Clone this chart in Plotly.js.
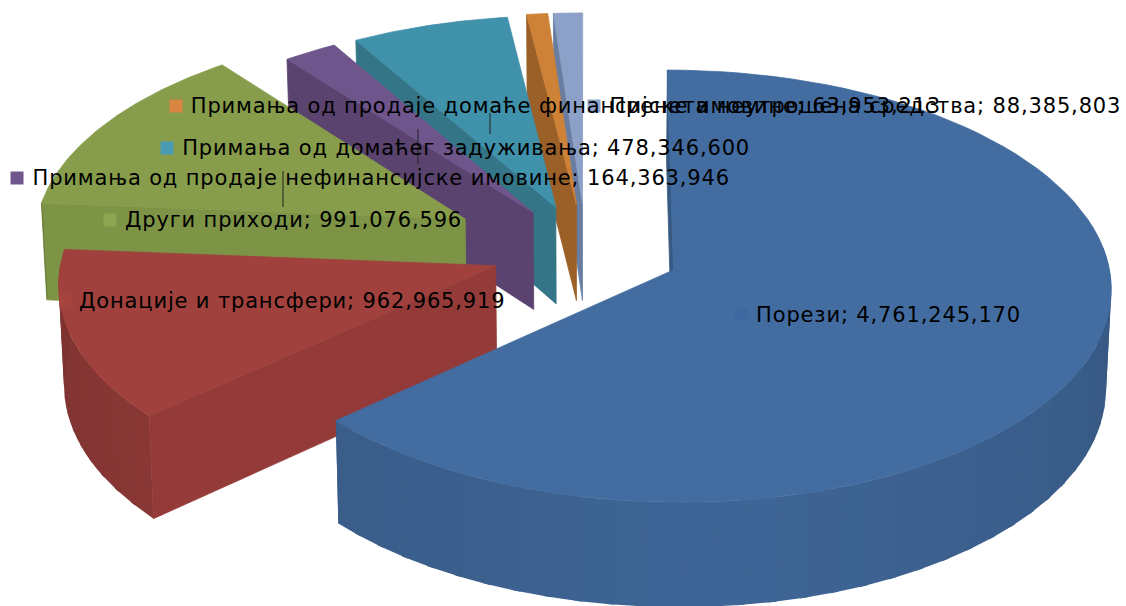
<!DOCTYPE html>
<html>
<head>
<meta charset="utf-8">
<script src="https://cdn.plot.ly/plotly-3.0.1.min.js"></script>
<style>html,body{margin:0;padding:0;background:#fff;overflow:hidden}#c{width:1126px;height:606px}
#c .annotation text{letter-spacing:.85px}</style>
</head>
<body>
<div id="c"></div>
<script>
// data
var categories = ['Порези','Донације и трансфери','Други приходи','Примања од продаје нефинансијске имовине','Примања од домаћег задуживања','Примања од продаје домаће финансијске имовине','Пренета неутрошена средства'];
var values = [4761245170,962965919,991076596,164363946,478346600,63953213,88385803];
var explode = [0.22,0.219,0.32,0.22,0.22,0.225,0.225];
var topColors = [[67,108,160],[160,65,62],[135,157,75],[110,85,140],[64,145,170],[205,130,55],[140,160,200]];
var faceColors = [[55,90,130],[148,59,57],[125,148,70],[90,67,110],[52,118,135],[155,95,40],[105,125,160]];
var keyColors = ['#3f68a0','#a8443f','#8ca550','#6e558c','#4a9ab5','#d88640','#8ca5cc'];
var labelX = [755,78,124,31,181,190,608];
var labelY = [315,301,220,178,148,106,106];
var keyX = [741,66,110,17,167,176,594];
var keyY = [314,301,220,178,148,106,106];
var leaderX = [490,418,283];
var leaderTop = [113,129,171];
var leaderBottom = [134,164,207];

// projection of the tilted pie onto the page
var Cx=586, Cy=250.7, F=433, A=212, K=0.075, D=98;
function rad(d){return d*Math.PI/180;}
function proj(X,Y,z){
  var den=1+K*Y;
  return [Cx+F*X/den*(1-0.01*z), Cy-A*Y/den+z*D*(1-0.065*Y)];
}
function rgb(c,f){f=f||1;return 'rgb('+c.map(function(v){return Math.round(v*f);}).join(',')+')';}
var traces=[];
function poly(pts,color,name,lw){
  var xs=pts.map(function(p){return p[0];}), ys=pts.map(function(p){return p[1];});
  xs.push(xs[0]); ys.push(ys[0]);
  traces.push({type:'scatter',mode:'lines',x:xs,y:ys,fill:'toself',fillcolor:color,line:{color:color,width:lw||0},hoverinfo:'skip',showlegend:false,name:name});
}
var total=values.reduce(function(a,b){return a+b;},0);
var starts=[],ends=[],acc=0;
values.forEach(function(v){starts.push(acc/total*360);acc+=v;ends.push(acc/total*360);});

[6,5,4,3,2,1,0].forEach(function(i){
  var s=starts[i],e=ends[i],mid=(s+e)/2;
  var X0=explode[i]*Math.sin(rad(mid)),Y0=explode[i]*Math.cos(rad(mid));
  function rim(a,z){return proj(X0+Math.sin(rad(a)),Y0+Math.cos(rad(a)),z);}
  // radial face at the start of the slice
  poly([rim(s,0),proj(X0,Y0,0),proj(X0,Y0,1),rim(s,1)],rgb(faceColors[i]),categories[i],0.8);
  // curved outer wall, in shaded bands; each band runs under the next
  var a0=Math.max(s,80),a1=Math.min(e,275),step=4;
  for(var a=a0;a<a1;a+=step){
    var b=Math.min(a+step,a1),bb=Math.min(b+1,a1);
    var f=0.94-0.0016*Math.abs((a+b)/2-175);
    poly([rim(a,0),rim((a+bb)/2,0),rim(bb,0),rim(bb,1),rim((a+bb)/2,1),rim(a,1)],rgb(topColors[i],f),categories[i]);
  }
  // top face
  var pts=[proj(X0,Y0,0)];
  for(var t=0;t<=90;t++){pts.push(rim(s+(e-s)*t/90,0));}
  poly(pts,rgb(topColors[i]),categories[i],0.8);
});

// leader lines
leaderX.forEach(function(x,i){
  traces.push({type:'scatter',mode:'lines',x:[x,x],y:[leaderTop[i],leaderBottom[i]],line:{color:'#222',width:1},hoverinfo:'skip',showlegend:false});
});
// label keys
traces.push({type:'scatter',mode:'markers',x:keyX,y:keyY,marker:{symbol:'square',size:13,color:keyColors,line:{width:0}},hoverinfo:'skip',showlegend:false});

var annotations=categories.map(function(c,i){
  var label=c+'; '+values[i].toLocaleString('en-US');
  // the box is measured without the letter spacing, so its start moves by half of it
  return {xref:'x',yref:'y',x:labelX[i]+label.length*0.425,y:labelY[i],xanchor:'left',yanchor:'middle',showarrow:false,borderpad:0,
    text:label,font:{family:'DejaVu Sans',size:21,color:'#000'}};
});

Plotly.newPlot('c',traces,{
  width:1126,height:606,margin:{l:0,r:0,t:0,b:0},paper_bgcolor:'#fff',plot_bgcolor:'#fff',showlegend:false,
  xaxis:{range:[0,1126],visible:false,fixedrange:true},
  yaxis:{range:[606,0],visible:false,fixedrange:true},
  annotations:annotations
},{displayModeBar:false,staticPlot:true});
</script>
</body>
</html>
